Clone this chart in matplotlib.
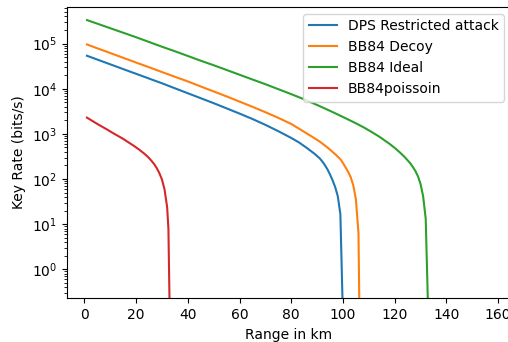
import matplotlib
matplotlib.use('Agg')

from matplotlib import pyplot as plt

# values (bits/s vs km); last point of each
# curve sits below the axis, where the rate falls away
dps_km = [1, 5, 10, 15, 20, 25, 30, 35, 40, 45, 50, 55, 60, 65, 70, 75, 80,
          83, 86, 89, 91, 92, 93, 94, 95, 96, 97, 98, 99, 100]
dps_rate = [53700, 44200, 34700, 27200, 21400, 16800, 13200, 10230, 7943,
            6166, 4786, 3673, 2818, 2138, 1585, 1148, 813, 646, 490, 363,
            288, 245.5, 204, 164, 126, 93.3, 66.1, 41.7, 16.6, 0.08]

decoy_km = [1, 5, 10, 15, 20, 25, 30, 35, 40, 45, 50, 55, 60, 65, 70, 75, 80,
            85, 88, 91, 94, 97, 99, 100, 101, 102, 103, 104, 105, 106, 107]
decoy_rate = [95500, 78500, 61700, 48400, 38000, 29900, 23400, 18400, 14500,
              11220, 8710, 6761, 5188, 3981, 3020, 2265, 1660, 1109, 871,
              676, 501, 355, 275, 226.5, 182, 144.5, 109.6, 72.4, 35.5, 6.31,
              0.0001]

ideal_km = [1, 5, 10, 15, 20, 25, 30, 35, 40, 45, 50, 55, 60, 65, 70, 75, 80,
            85, 90, 95, 100, 105, 108, 111, 114, 116, 118, 120, 122, 124, 126,
            127, 128, 129, 130, 131, 132, 133]
ideal_rate = [331000, 275400, 218800, 173800, 138000, 108400, 85100, 67600,
              53100, 41700, 33100, 26000, 20400, 16000, 12590, 9772, 7586,
              5821, 4365, 3236, 2371, 1718, 1396, 1109, 871, 724, 603, 490,
              389, 302, 224, 186, 151, 114.8, 77.6, 41.7, 13.2, 0.083]

poisson_km = [1, 3, 5, 7, 9, 11, 13, 15, 17, 19, 21, 23, 24, 25, 26, 27, 28,
              29, 30, 31, 32, 32.5, 33]
poisson_rate = [2291, 1950, 1660, 1429, 1230, 1047, 902, 776, 653, 550, 457,
                371.5, 331, 292, 251, 214, 174, 135, 97.7, 58.9, 24, 7.94, 0.1]

f = plt.figure(figsize=(5.08, 3.42), dpi=100)
ax = f.add_axes([0.132, 0.128, 0.874, 0.852])

ax.plot(dps_km, dps_rate, label='DPS Restricted attack')
ax.plot(decoy_km, decoy_rate, label='BB84 Decoy')
ax.plot(ideal_km, ideal_rate, label='BB84 Ideal')
ax.plot(poisson_km, poisson_rate, label='BB84poissoin')

ax.set_yscale('log')
ax.set_xlim(-6.7, 165)
ax.set_ylim(0.23, 6.5e5)
ax.set_xticks([0, 20, 40, 60, 80, 100, 120, 140, 160])

ax.set_xlabel('Range in km')
ax.set_ylabel('Key Rate (bits/s)')
ax.legend(loc='upper right')

plt.savefig('out.png', dpi=100)
